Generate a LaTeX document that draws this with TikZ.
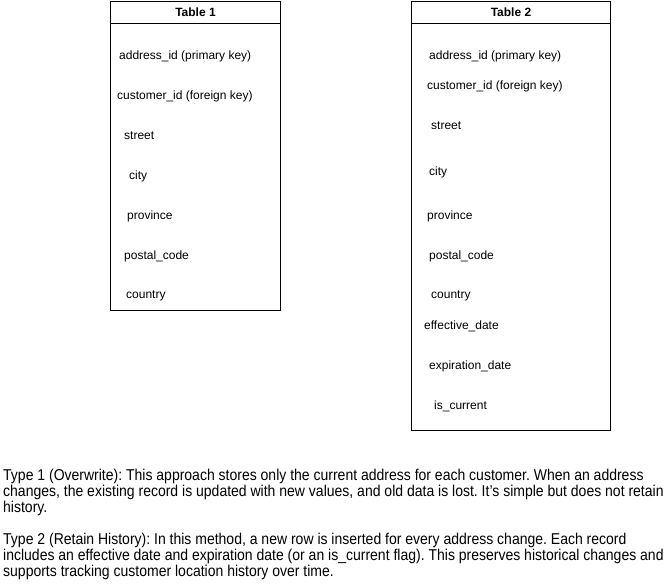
\documentclass[tikz,border=0pt]{standalone}
\usepackage{fontspec}
\setmainfont{Liberation Sans}
\usepackage{tikz}
\tikzset{
  tbl/.style={draw,line width=1pt},
  head/.style={font=\fontsize{12}{14}\selectfont\bfseries,inner sep=0pt},
  fld/.style={font=\fontsize{12}{14}\selectfont,anchor=west,inner sep=0pt},
  para/.style={font=\fontsize{14}{14.3}\selectfont\frenchspacing,anchor=west,align=left,inner sep=0pt,
    yscale=1.12,transform shape}
}
\begin{document}
\begin{tikzpicture}[x=1pt,y=-1pt]
\useasboundingbox[fill=white](0,0)rectangle(670,586);
%table 1
\draw[tbl](110.5,1.5)rectangle(280.5,310.5);
\draw[tbl](110.5,23.5)--(280.5,23.5);
\node[head](t1head)at(195.5,12.5){Table 1};
\node[fld](t1addr)at(119,56){address\_id (primary key)};
\node[fld](t1cust)at(117,96){customer\_id (foreign key)};
\node[fld](t1street)at(124,136){street};
\node[fld](t1city)at(129,176){city};
\node[fld](t1prov)at(127,216){province};
\node[fld](t1post)at(124,256){postal\_code};
\node[fld](t1country)at(126,296){country};
%table 2
\draw[tbl](411.5,1.5)rectangle(610.5,430.5);
\draw[tbl](411.5,23.5)--(610.5,23.5);
\node[head](t2head)at(511,12.5){Table 2};
\node[fld](t2addr)at(429,56){address\_id (primary key)};
\node[fld](t2cust)at(427,86){customer\_id (foreign key)};
\node[fld](t2street)at(431,126){street};
\node[fld](t2city)at(429,172){city};
\node[fld](t2prov)at(427,216){province};
\node[fld](t2post)at(429,256){postal\_code};
\node[fld](t2country)at(431,296){country};
\node[fld](t2eff)at(424,326){effective\_date};
\node[fld](t2exp)at(429,366){expiration\_date};
\node[fld](t2cur)at(434,406){is\_current};
%notes
\node[para](type1)at(3,492){Type 1 (Overwrite): This approach stores only the current address for each customer. When an address\\
changes, the existing record is updated with new values, and old data is lost. It’s simple but does not retain\\
history.};
\node[para](type2)at(3,556){Type 2 (Retain History): In this method, a new row is inserted for every address change. Each record\\
includes an effective date and expiration date (or an is\_current flag). This preserves historical changes and\\
supports tracking customer location history over time.};
\end{tikzpicture}
\end{document}
